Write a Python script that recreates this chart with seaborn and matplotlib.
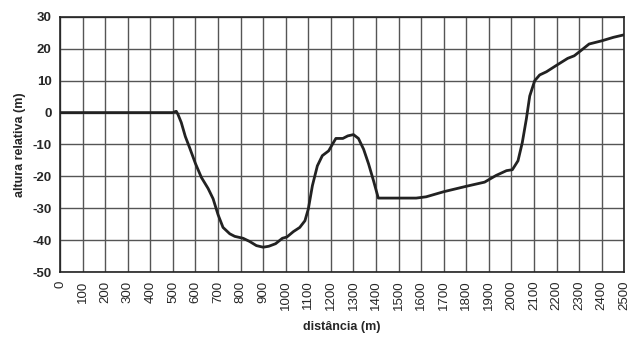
import matplotlib
matplotlib.use('Agg')
import matplotlib.pyplot as plt
import seaborn as sns
import pandas as pd
import numpy as np

# perfil do terreno
distancia = [0, 100, 200, 300, 400, 500, 510, 515, 522, 537, 555, 574, 600, 626, 656, 678,
             700, 722, 752, 774, 811, 840, 870, 900, 925, 955, 985, 1005, 1034, 1062,
             1085, 1100, 1118, 1140, 1162, 1190, 1207, 1222, 1253, 1275, 1300, 1322,
             1345, 1367, 1389, 1410, 1500, 1578, 1622, 1700, 1800, 1881, 1932, 1978,
             2004, 2029, 2048, 2066, 2081, 2103, 2125, 2155, 2197, 2249, 2278, 2307,
             2344, 2400, 2452, 2500]
altura = [0, 0, 0, 0, 0, 0, 0.3, 0.4, -0.5, -3.1, -7.5, -11, -16, -20.3, -23.8, -27,
          -32, -36, -38, -38.8, -39.4, -40.4, -41.7, -42.2, -41.9, -41.1, -39.4, -39,
          -37.3, -36, -33.9, -30.2, -22.9, -16.7, -13.5, -12, -9.9, -8.1, -8.1, -7.3,
          -6.9, -8.1, -11.5, -16.1, -21.4, -26.8, -26.8, -26.8, -26.4, -24.8, -23.1,
          -21.8, -19.7, -18.2, -17.9, -15.1, -9.4, -2, 5.2, 10, 11.8, 12.8, 14.7, 17,
          17.8, 19.4, 21.5, 22.5, 23.6, 24.4]

xticks = list(range(0, 2501, 100))
yticks = list(range(-50, 31, 10))

sns.set_style("white")
plt.rcParams['font.family'] = ['Liberation Sans', 'DejaVu Sans']

df = pd.DataFrame({'distancia': distancia, 'altura': altura})

fig = plt.figure(figsize=(6.39, 3.38), dpi=100)
ax = fig.add_axes([0.094, 0.195, 0.883, 0.755])
sns.lineplot(data=df, x='distancia', y='altura', ax=ax, color='#222222', linewidth=2,
             solid_joinstyle='round', solid_capstyle='round')

ax.set_xlim(0, 2500)
ax.set_ylim(-50, 30)
ax.set_xticks(xticks)
ax.set_yticks(yticks)
ax.set_xticklabels([str(t) for t in xticks], rotation=90, fontsize=9.5)
ax.set_yticklabels([str(t) for t in yticks], fontsize=9.5, fontweight='bold')
ax.grid(True, color='#555555', linewidth=1)
ax.tick_params(axis='both', direction='out', length=4, width=1, color='#222222', pad=2)
for s in ax.spines.values():
    s.set_color('#222222')
    s.set_linewidth(1.2)

ax.set_xlabel('distância (m)', fontsize=9, fontweight='bold', labelpad=8)
ax.set_ylabel('altura relativa (m)', fontsize=9, fontweight='bold', labelpad=5)

fig.savefig('out.png', dpi=100)
